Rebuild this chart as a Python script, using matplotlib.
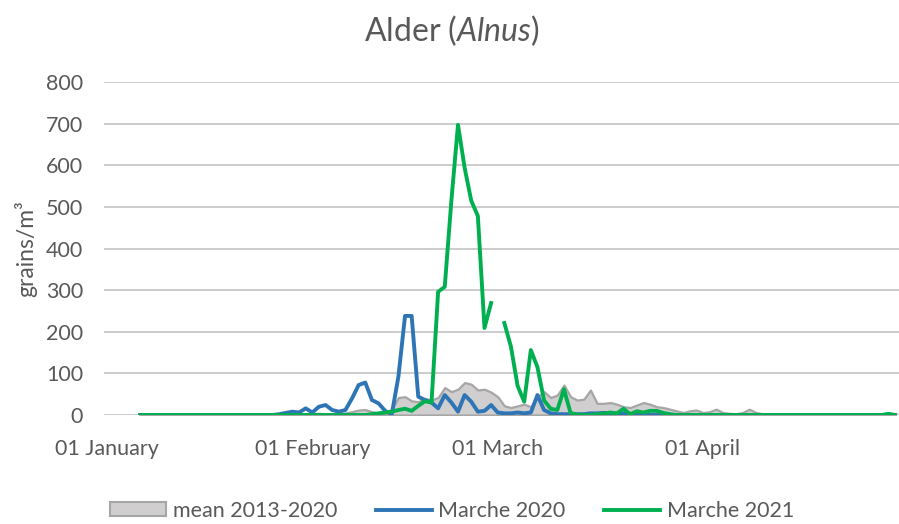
import numpy as np
import pandas as pd
import matplotlib
matplotlib.use("Agg")
import matplotlib.pyplot as plt
from matplotlib.patches import Patch
from matplotlib.lines import Line2D

plt.rcParams['font.family'] = ['Lato', 'DejaVu Sans']
plt.rcParams['mathtext.fontset'] = 'custom'
plt.rcParams['mathtext.rm'] = 'Lato'
plt.rcParams['mathtext.it'] = 'Lato:italic'

# daily counts, from 6 January
start = "2021-01-06"

mean_2013_2020 = ([0] * 20 +
                  [1, 2, 2, 3, 2, 3, 3, 4, 3, 2, 3, 5, 8, 12, 13, 8, 5, 5, 14,
                   42, 44, 34, 32, 40, 36, 42, 66, 56, 62, 78, 74, 60, 62, 55, 44,
                   22, 18, 22, 26, 20, 44, 56, 42, 48, 72, 44, 36, 38, 60, 28, 28,
                   30, 26, 20, 18, 24, 30, 26, 20, 18, 14, 10, 6, 10, 12, 6, 8, 14,
                   6, 4, 3, 6, 14, 6, 3, 2] +
                  [1] * 8 + [0] * 11)

marche_2020 = ([0] * 21 +
               [2, 5, 8, 6, 16, 6, 20, 24, 12, 8, 12, 40, 72, 78, 36, 28, 10, 2,
                92, 238, 238, 44, 36, 30, 16, 48, 30, 8, 48, 32, 8, 10, 24, 6, 4,
                4, 6, 4, 6, 48, 12, 4, 2, 2, 2, 2, 2, 4, 4, 5, 4, 3, 4, 2, 2, 1] +
               [0] * 38)

marche_2021 = ([0] * 35 +
               [2, 4, 6, 8, 12, 15, 10, 22, 33, 30, 296, 308, 515, 697, 594, 515,
                478, 209, 269, np.nan, 221, 164, 70, 32, 156, 115, 35, 15, 12, 62,
                5, 1, 0, 0, 2, 3, 6, 4, 15, 2, 9, 6, 10, 10, 5, 2] +
               [0] * 32 + [3, 0])

tick_dates = ["2021-01-01", "2021-02-01", "2021-03-01", "2021-04-01"]
tick_labels = ["01 January", "01 February", "01 March", "01 April"]

dates = pd.date_range(start, periods=len(marche_2021))

fig = plt.figure(figsize=(8.99, 5.24), dpi=100)
ax = fig.add_axes([0.1157, 0.208, 0.8843, 0.6355])

grey_fill = '#d0cece'
grey_edge = '#a6a6a6'
blue = '#2e75b6'
green = '#00b050'
text_col = '#595959'

ax.fill_between(dates, 0, mean_2013_2020, facecolor=grey_fill,
                edgecolor=grey_edge, linewidth=1.6, zorder=2)
ax.plot(dates, marche_2020, color=blue, lw=2.8, zorder=3)
ax.plot(dates, marche_2021, color=green, lw=2.8, zorder=4)

ax.set_ylim(0, 800)
ax.set_yticks(range(0, 801, 100))
ax.set_xlim(pd.Timestamp("2021-01-01") - pd.Timedelta(hours=11),
            pd.Timestamp("2021-01-01") + pd.Timedelta(days=119.6))
ax.set_xticks(pd.to_datetime(tick_dates))
ax.set_xticklabels(tick_labels)

ax.grid(axis='y', color='#c8c8c8', lw=1.3, zorder=1)
ax.set_axisbelow(True)
for s in ax.spines.values():
    s.set_visible(False)
ax.tick_params(length=0, labelsize=15.5, colors=text_col)
ax.tick_params(axis='x', pad=17)
ax.tick_params(axis='y', pad=15)

ax.set_ylabel("grains/m³", fontsize=16.5, color=text_col, labelpad=6)
fig.text(0.503, 0.942, r"Alder ($\mathit{Alnus}$)", ha='center', va='center',
         fontsize=23, color=text_col)

handles = [Patch(facecolor=grey_fill, edgecolor=grey_edge, lw=1.5),
           Line2D([], [], color=blue, lw=2.8),
           Line2D([], [], color=green, lw=2.8)]
fig.legend(handles, ["mean 2013-2020", "Marche 2020", "Marche 2021"],
           loc='center', bbox_to_anchor=(0.503, 0.025), ncol=3, frameon=False,
           fontsize=15.5, labelcolor=text_col, handlelength=2.6,
           handleheight=0.6, handletextpad=0.3, columnspacing=1.8)

fig.savefig("out.png", dpi=100)
